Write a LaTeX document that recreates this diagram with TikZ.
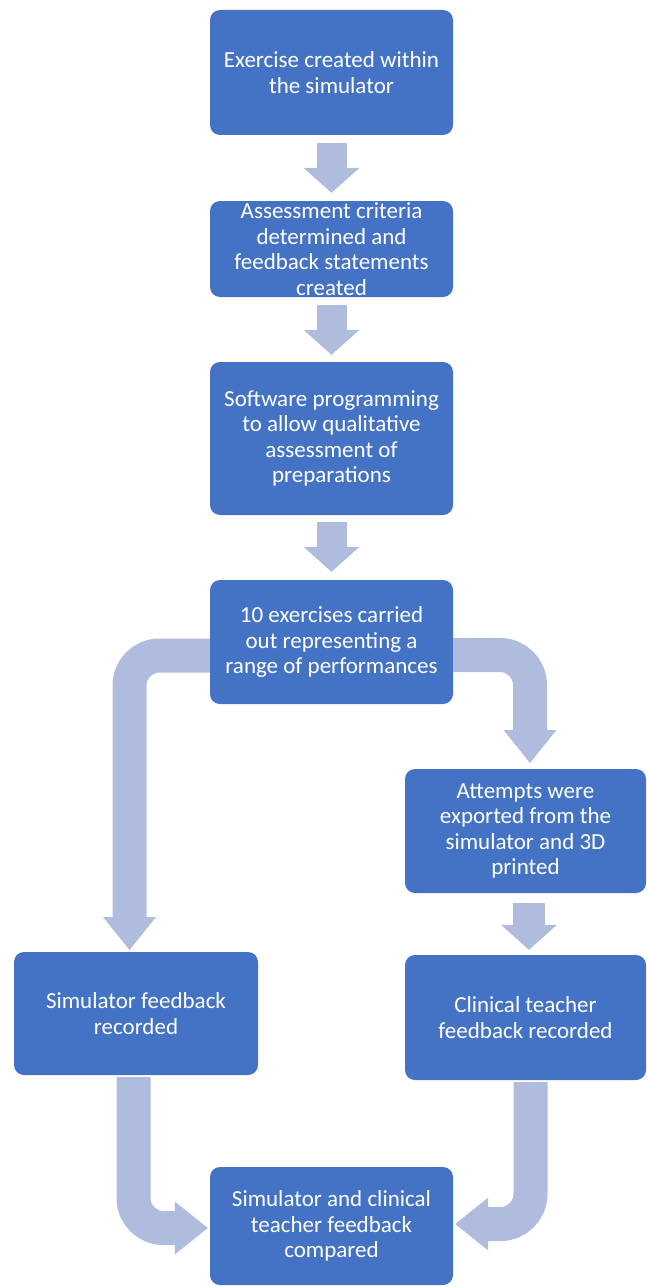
\documentclass[tikz,border=0pt]{standalone}
\usepackage{fontspec}
\setmainfont{Carlito}
\usetikzlibrary{arrows.meta,calc}
\definecolor{boxblue}{RGB}{68,114,196}
\definecolor{arrowblue}{RGB}{176,188,222}
\begin{document}
\begin{tikzpicture}[x=1pt,y=1pt,
  box/.style={draw=none, fill=boxblue, rounded corners=10pt, text=white, align=center,
    font=\fontsize{23}{25.5}\selectfont, inner sep=0pt},
  flow/.style={draw=arrowblue, line width=30pt,
    -{Triangle[width=56pt,length=25pt,line width=0pt]}},
  bent/.style={flow, line width=34pt, rounded corners=30pt,
    -{Triangle[width=53pt,length=33pt,line width=0pt]}}
]
\useasboundingbox (0,0) rectangle (646,-1287);

\node[box, minimum width=243pt, minimum height=125pt] (b1) at (331.5,-72.5)
  {Exercise created within\\the simulator};
\node[box, minimum width=243pt, minimum height=96pt] (b2) at (331.5,-249)
  {Assessment criteria\\determined and\\feedback statements\\created};
\node[box, minimum width=243pt, minimum height=153pt] (b3) at (331.5,-438.5)
  {Software programming\\to allow qualitative\\assessment of\\preparations};
\node[box, minimum width=243pt, minimum height=124pt] (b4) at (331.5,-642)
  {10 exercises carried\\out representing a\\range of performances};
\node[box, minimum width=241pt, minimum height=124pt] (att) at (525.5,-831)
  {Attempts were\\exported from the\\simulator and 3D\\printed};
\node[box, minimum width=241pt, minimum height=125pt] (clin) at (525.5,-1017.5)
  {Clinical teacher\\feedback recorded};
\node[box, minimum width=244pt, minimum height=123pt] (simfb) at (136,-1013.5)
  {Simulator feedback\\recorded};
\node[box, minimum width=243pt, minimum height=118pt] (final) at (331.5,-1226)
  {Simulator and clinical\\teacher feedback\\compared};

\coordinate (lb) at (129.5,-950);
\coordinate (rb) at (530,-763);

\draw[flow] ([yshift=-8pt]b1.south) -- ([yshift=8pt]b2.north);
\draw[flow] ([yshift=-8pt]b2.south) -- ([yshift=7pt]b3.north);
\draw[flow] ([yshift=-7pt]b3.south) -- ([yshift=8pt]b4.north);
\draw[bent] ([yshift=-13.5pt]b4.west) -| (lb);
\draw[bent] ([yshift=-13pt]b4.east) -| (rb);
\draw[flow, line width=32pt] ([xshift=3.5pt,yshift=-10pt]att.south) -- ([xshift=3.5pt,yshift=5pt]clin.north);
\draw[bent] ([xshift=-2.5pt,yshift=-2pt]simfb.south) |- ([xshift=-2pt,yshift=-2pt]final.west);
\draw[bent] ([xshift=5pt,yshift=-2pt]clin.south) |- ([xshift=2pt,yshift=2pt]final.east);
\end{tikzpicture}
\end{document}
